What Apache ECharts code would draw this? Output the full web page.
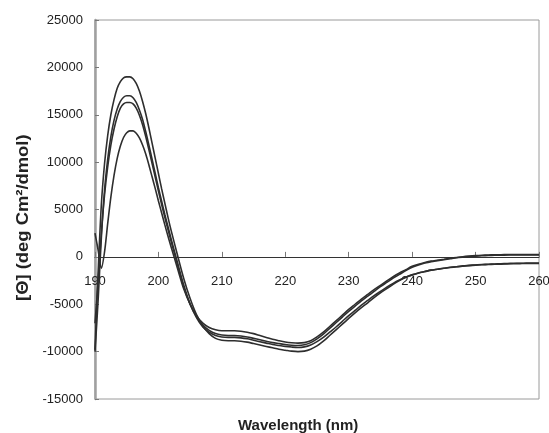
<!DOCTYPE html>
<html>
<head>
<meta charset="utf-8">
<script src="https://cdn.jsdelivr.net/npm/echarts@6/dist/echarts.min.js"></script>
<style>
html,body{margin:0;padding:0;background:#fff;}
#cdchart{width:549px;height:433px;}
</style>
</head>
<body>
<div id="cdchart"></div>
<script>
// wavelength (nm): 0.5 nm steps up to 202, then 1 nm
var wavelength = [190,190.5,191,191.5,192,192.5,193,193.5,194,194.5,195,195.5,196,196.5,197,197.5,198,198.5,199,199.5,200,200.5,201,201.5,202,
  203,204,205,206,207,208,209,210,211,212,213,214,215,216,217,218,219,220,221,222,223,224,225,226,227,228,229,230,
  231,232,233,234,235,236,237,238,239,240,241,242,243,244,245,246,247,248,249,250,251,252,253,254,255,256,257,258,259,260];

var curveA = [-9800,-1500,5500,9800,12800,15000,16600,17800,18500,18900,19000,19000,18800,18300,17500,16400,15100,13600,12000,10400,8800,7200,5700,4200,2800,
  200,-2300,-4400,-6100,-7300,-8100,-8600,-8800,-8850,-8850,-8900,-9000,-9150,-9300,-9450,-9600,-9750,-9850,-9950,-10000,-9950,-9750,-9400,-8900,-8300,-7700,-7100,-6500,
  -5900,-5350,-4850,-4300,-3800,-3350,-2900,-2500,-2150,-1900,-1700,-1550,-1400,-1300,-1200,-1100,-1050,-950,-900,-850,-800,-780,-750,-720,-700,-680,-670,-660,-650,-650];

var curveB = [-10000,-4500,2000,7000,10300,12700,14400,15600,16400,16850,17000,17000,16800,16300,15500,14500,13200,11800,10300,8800,7300,5900,4500,3200,1900,
  -600,-3000,-5000,-6400,-7400,-7950,-8300,-8450,-8500,-8500,-8550,-8650,-8800,-8950,-9100,-9250,-9350,-9450,-9520,-9560,-9500,-9300,-8950,-8500,-7950,-7400,-6800,-6200,
  -5650,-5100,-4600,-4100,-3650,-3200,-2800,-2450,-2150,-1900,-1700,-1550,-1400,-1300,-1200,-1120,-1050,-980,-920,-870,-830,-800,-780,-760,-740,-720,-710,-700,-700,-700];

var curveC = [-7000,-2500,2500,6500,9500,11800,13500,14800,15700,16150,16300,16300,16150,15700,14950,13950,12700,11300,9850,8400,6950,5550,4200,2900,1650,
  -800,-3200,-5000,-6300,-7200,-7750,-8100,-8250,-8300,-8300,-8350,-8450,-8600,-8750,-8900,-9050,-9150,-9250,-9320,-9350,-9280,-9050,-8650,-8150,-7550,-6950,-6350,-5750,
  -5200,-4650,-4150,-3650,-3150,-2700,-2250,-1850,-1450,-1100,-850,-650,-500,-400,-300,-200,-100,-30,30,80,120,150,170,180,190,200,200,200,200,200];

var curveD = [2500,700,-1200,500,3500,6300,8600,10400,11700,12600,13100,13300,13300,13050,12550,11800,10850,9700,8450,7200,5900,4650,3400,2200,1050,
  -1200,-3400,-5000,-6200,-7000,-7450,-7700,-7800,-7800,-7800,-7850,-7950,-8100,-8300,-8500,-8700,-8850,-8980,-9060,-9100,-9050,-8850,-8450,-7950,-7350,-6750,-6150,-5550,
  -5000,-4450,-3950,-3450,-3000,-2550,-2100,-1700,-1350,-1000,-780,-600,-450,-350,-250,-150,-60,20,80,130,170,200,220,230,240,250,250,250,250,250];

var xTicks = {min:190, max:260, step:10};
var yTicks = {min:-15000, max:25000, step:5000};

function pairs(ys){
  var out=[];
  for(var i=0;i<wavelength.length;i++){
    out.push([wavelength[i], ys[i]]);
  }
  return out;
}

var myChart = echarts.init(document.getElementById('cdchart'));
var lineStyle = {color:'#2e2e2e', width:1.6};
var allCurves = [curveA, curveB, curveC, curveD];
var series = [];
for(var k=0;k<allCurves.length;k++){
  series.push({
    type:'line',
    data:pairs(allCurves[k]),
    showSymbol:false,
    smooth:0.3,
    lineStyle:lineStyle,
    silent:true
  });
}

// plot box: 95..539 x 20..399, zero line at y ~ 257
var gridTop = 20, gridBottom = 34, chartH = 433;
var plotH = chartH - gridTop - gridBottom;
var zeroOffset = plotH * (0 - yTicks.min) / (yTicks.max - yTicks.min);

var option = {
  animation:false,
  grid:{
    left:95, right:10, top:gridTop, bottom:gridBottom,
    containLabel:false,
    outerBoundsMode:'none',
    show:true,
    borderColor:'#9a9a9a',
    borderWidth:1
  },
  xAxis:{
    type:'value',
    position:'bottom',
    offset:-zeroOffset,
    min:xTicks.min, max:xTicks.max, interval:xTicks.step,
    axisLine:{onZero:false, lineStyle:{color:'#333', width:1}},
    axisTick:{inside:true, length:5, lineStyle:{color:'#777'}},
    axisLabel:{margin:18, color:'#222', fontSize:13, fontFamily:'Liberation Sans, Arial, sans-serif',
      showMaxLabel:true, showMinLabel:true, formatter:function(v){return String(v);}},
    splitLine:{show:false}
  },
  yAxis:{
    type:'value',
    min:yTicks.min, max:yTicks.max, interval:yTicks.step,
    axisLine:{show:true, onZero:false, lineStyle:{color:'#a0a0a0', width:2.5}},
    axisTick:{show:true, inside:true, length:4, lineStyle:{color:'#777'}},
    axisLabel:{margin:12, color:'#222', fontSize:13, fontFamily:'Liberation Sans, Arial, sans-serif',
      formatter:function(v){return String(v);}},
    splitLine:{show:false}
  },
  graphic:[
    {
      type:'text',
      left:238, top:418,
      style:{text:'Wavelength (nm)', fill:'#222', font:'bold 15px "Liberation Sans", Arial, sans-serif'}
    },
    {
      type:'text',
      x:16, y:301,
      rotation:Math.PI/2,
      scaleX:1.15,
      style:{text:'[Θ] (deg Cm²/dmol)', fill:'#222', font:'bold 16px "Liberation Sans", Arial, sans-serif'}
    }
  ],
  series:series
};
myChart.setOption(option);
</script>
</body>
</html>
